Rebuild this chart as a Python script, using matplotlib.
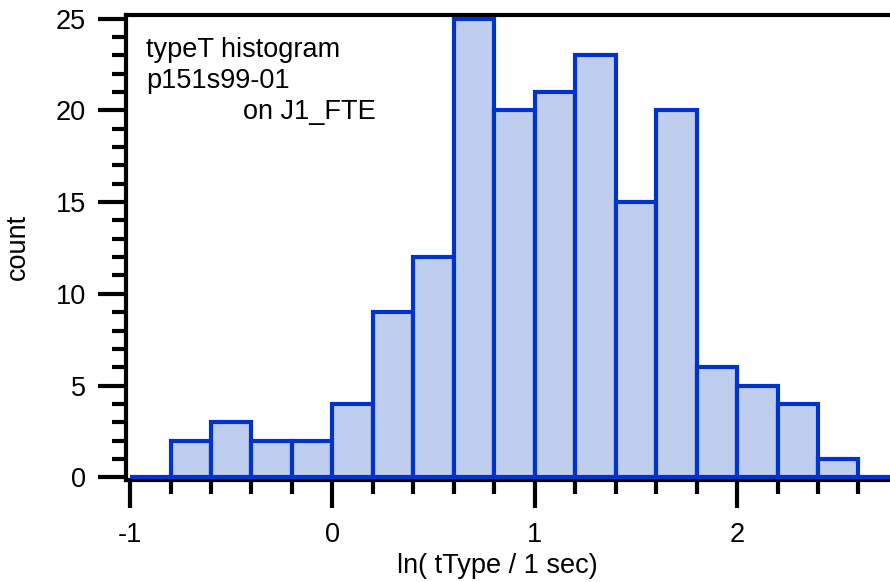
import matplotlib
matplotlib.use("Agg")
import matplotlib.pyplot as plt
from matplotlib.ticker import MultipleLocator

bin_left = [-1.0, -0.8, -0.6, -0.4, -0.2, 0.0, 0.2, 0.4, 0.6, 0.8, 1.0, 1.2, 1.4, 1.6, 1.8, 2.0, 2.2, 2.4, 2.6]
counts   = [0, 2, 3, 2, 2, 4, 9, 12, 25, 20, 21, 23, 15, 20, 6, 5, 4, 1, 0]
bin_width = 0.2
x_ticks = [-1, 0, 1, 2]
x_tick_labels = ["-1", "0", "1", "2"]
y_ticks = [0, 5, 10, 15, 20, 25]
annot_lines = ["typeT histogram", "p151s99-01", "on J1_FTE"]

plt.rcParams['font.family'] = ['Liberation Sans', 'DejaVu Sans']
FS = 19.5

fig = plt.figure(figsize=(8.9, 5.82), dpi=100)
W, H = 890, 582
ax = fig.add_axes([126 / W, 1 - 480 / H, 1 - 126 / W + 0.01, (480 - 15) / H])

ax.bar(bin_left, counts, width=bin_width, align='edge',
       color='#BFCDEF', edgecolor='#0033CC', linewidth=3, zorder=2)

ax.set_xlim(-1.02, 2.80)
ax.set_ylim(-0.15, 25.2)

ax.spines['right'].set_visible(False)
for s in ['left', 'bottom', 'top']:
    ax.spines[s].set_linewidth(3)
    ax.spines[s].set_zorder(1)

ax.set_xticks(x_ticks)
ax.set_xticklabels(x_tick_labels)
ax.set_yticks(y_ticks)
ax.xaxis.set_minor_locator(MultipleLocator(0.2))
ax.yaxis.set_minor_locator(MultipleLocator(1))
ax.tick_params(axis='both', which='major', direction='out', length=20, width=3, labelsize=FS)
ax.tick_params(axis='y', which='major', pad=9)
ax.tick_params(axis='x', which='major', pad=10)
ax.tick_params(axis='both', which='minor', direction='out', length=10, width=3)
ax.tick_params(top=False, right=False, which='both')

fig.text(18 / W, 1 - 247 / H, 'count', fontsize=FS, rotation=90, ha='center', va='center')
fig.text(497 / W, 1 - 566 / H, 'ln( tType / 1 sec)', fontsize=FS, ha='center', va='center')

fig.text(146 / W, 1 - 57 / H, annot_lines[0], fontsize=FS, ha='left', va='baseline')
fig.text(146 / W, 1 - 88 / H, annot_lines[1], fontsize=FS, ha='left', va='baseline')
fig.text(243 / W, 1 - 119 / H, annot_lines[2], fontsize=FS, ha='left', va='baseline')

fig.savefig('out.png', dpi=100)
